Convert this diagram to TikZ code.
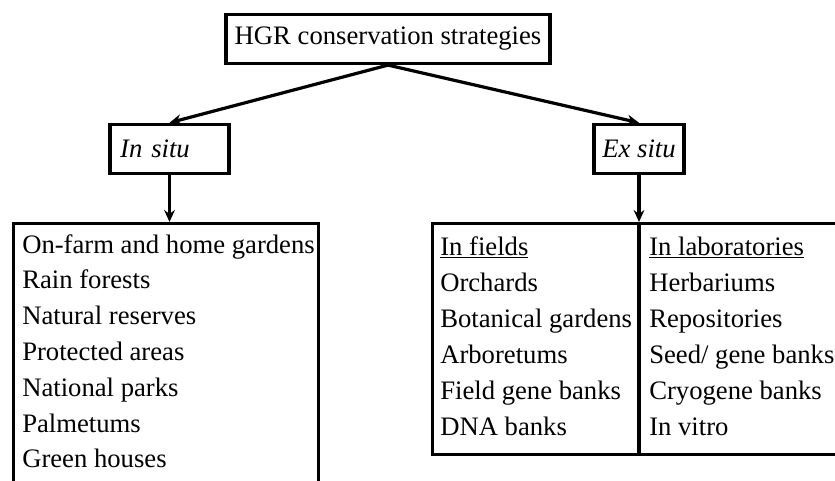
\documentclass[tikz,border=0pt]{standalone}
\usepackage{fontspec}
\setmainfont{Liberation Serif}
\usetikzlibrary{arrows.meta,positioning}

\begin{document}
\begin{tikzpicture}[x=.75pt,y=-.75pt,
    every node/.style={font=\fontsize{20}{27}\selectfont},
    boxed/.style={draw,line width=2.4pt,rectangle,inner sep=0pt},
    item/.style={anchor=base west,inner sep=0pt},
    link/.style={line width=2.4pt,-{Stealth[length=9pt,width=8pt,inset=3pt]}}]
  \useasboundingbox (0,0) rectangle (835,480);
  \clip (0,0) rectangle (835,480);
  % heading boxes
  \node[boxed,minimum width=243pt,minimum height=36.75pt] (hgr) at (388,39) {HGR conservation strategies};
  \node[boxed,minimum width=89.25pt,minimum height=37pt,text width=74pt,align=left] (insitu) at (169.5,149) {\textit{In situ}};
  \node[boxed,minimum width=67.5pt,minimum height=37pt] (exsitu) at (639,149) {\textit{Ex situ}};
  % list frames
  \node[boxed,anchor=north west,minimum width=228.75pt,minimum height=224pt] (inlist) at (12,222) {};
  \node[boxed,anchor=north west,minimum width=314pt,minimum height=173.25pt] (exlist) at (431,222) {};
  \draw[line width=2.4pt] (exsitu.south |- exlist.north) -- (exsitu.south |- exlist.south);
  % connectors
  \draw[link] (hgr.south) -- (insitu.north);
  \draw[link] (hgr.south) -- (exsitu.north);
  \draw[link] (insitu.south) -- (insitu.south |- inlist.north);
  \draw[link] (exsitu.south) -- (exsitu.south |- exlist.north);
  % in situ list
  \foreach \t [count=\i from 0] in {On-farm and home gardens,Rain forests,Natural reserves,
      Protected areas,National parks,Palmetums,Green houses}
    \node[item] (ins\i) at (22,253+35.8*\i) {\t};
  % ex situ lists
  \node[item] (fields) at (440,255) {\underline{In fields}};
  \foreach \t [count=\i] in {Orchards,Botanical gardens,Arboretums,Field gene banks,DNA banks}
    \node[item] (fld\i) at (440,255+36*\i) {\t};
  \node[item] (labs) at (649,255) {\underline{In laboratories}};
  \foreach \t [count=\i] in {Herbariums,Repositories,Seed/ gene banks,Cryogene banks,In vitro}
    \node[item] (lab\i) at (649,255+36*\i) {\t};
\end{tikzpicture}
\end{document}
